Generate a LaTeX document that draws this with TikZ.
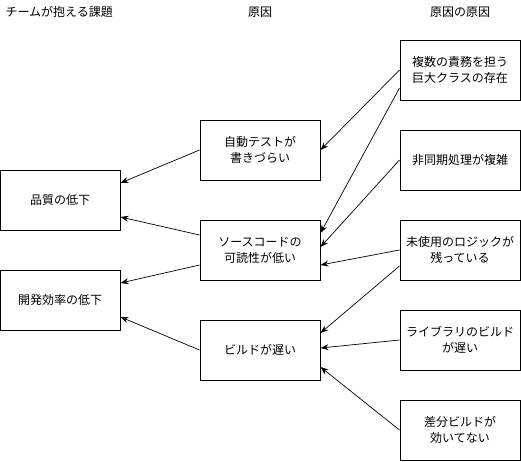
\documentclass[tikz,border=0pt]{standalone}
\usepackage{fontspec}
\setmainfont{Noto Sans CJK JP}
\usetikzlibrary{arrows.meta}

\tikzset{
  box/.style={draw, line width=1pt, minimum width=120pt, minimum height=60pt, align=center, inner sep=0pt},
  arr/.style={-{Stealth[length=8pt,width=6pt]}, line width=0.7pt},
}

\begin{document}
\begin{tikzpicture}[x=1pt, y=-1pt, font=\fontsize{12}{16}\selectfont]
    \useasboundingbox (0,0) rectangle (521,461);

    % Column headings
    \node[anchor=west] (head1) at (2,12) {チームが抱える課題};
    \node (head2) at (260,12) {原因};
    \node (head3) at (460,12) {原因の原因};

    % Problems of the team
    \node[box] (quality) at (60,200) {品質の低下};
    \node[box] (efficiency) at (60,300) {開発効率の低下};

    % Causes
    \node[box] (autotest) at (260,150) {自動テストが\\書きづらい};
    \node[box] (readability) at (260,250) {ソースコードの\\可読性が低い};
    \node[box] (build) at (260,350) {ビルドが遅い};

    % Causes of the causes
    \node[box] (bigclass) at (460,70) {複数の責務を担う\\巨大クラスの存在};
    \node[box] (async) at (460,160) {非同期処理が複雑};
    \node[box] (unused) at (460,250) {未使用のロジックが\\残っている};
    \node[box] (library) at (460,340) {ライブラリのビルド\\が遅い};
    \node[box] (diff) at (460,430) {差分ビルドが\\効いてない};

    % Causes -> problems
    \draw[arr] (autotest.west) -- ([yshift=17pt]quality.east);
    \draw[arr] ([yshift=15pt]readability.west) -- ([yshift=-17pt]quality.east);
    \draw[arr] ([yshift=-15pt]readability.west) -- ([yshift=17pt]efficiency.east);
    \draw[arr] (build.west) -- ([yshift=-17pt]efficiency.east);

    % Causes of the causes -> causes
    \draw[arr] (bigclass.west) -- (autotest.east);
    \draw[arr] ([yshift=-18pt]bigclass.west) -- ([yshift=17pt]readability.east);
    \draw[arr] (async.west) -- ([yshift=3pt]readability.east);
    \draw[arr] (unused.west) -- ([yshift=-15pt]readability.east);
    \draw[arr] ([yshift=-16pt]unused.west) -- ([yshift=17pt]build.east);
    \draw[arr] (library.west) -- ([yshift=2pt]build.east);
    \draw[arr] (diff.west) -- ([yshift=-17pt]build.east);
\end{tikzpicture}
\end{document}
